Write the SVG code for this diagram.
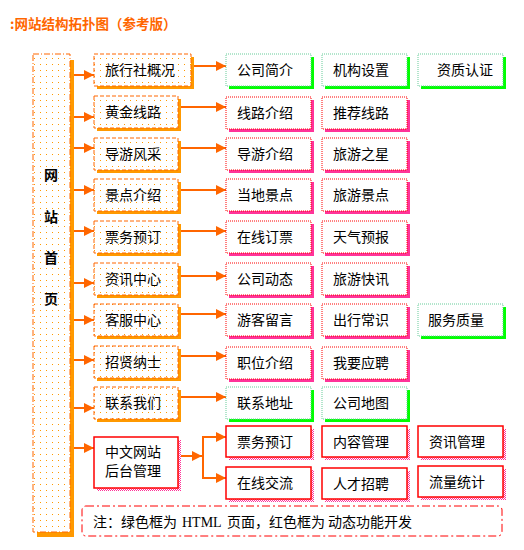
<svg xmlns="http://www.w3.org/2000/svg" width="524" height="550" viewBox="0 0 524 550">
<defs>
<pattern id="dots" width="6" height="6" patternUnits="userSpaceOnUse" x="1" y="1"><rect width="6" height="6" fill="#fff"/><rect x="3" y="3" width="1" height="1" fill="#ff9900"/></pattern>
<pattern id="checker" width="2" height="2" patternUnits="userSpaceOnUse"><rect width="2" height="2" fill="#fff"/><rect width="1" height="1" fill="#ff3399"/><rect x="1" y="1" width="1" height="1" fill="#ff3399"/></pattern>
<marker id="arr" markerUnits="userSpaceOnUse" markerWidth="11" markerHeight="11" refX="10" refY="5" orient="auto"><path d="M0,0 L10,5 L0,10 z" fill="#ff6600"/></marker>
<style>
.col{fill:url(#dots);stroke:#ff6600;stroke-width:1;stroke-dasharray:6 2 1 2}
.l1{fill:url(#dots);stroke:#ff6600;stroke-width:1;stroke-dasharray:4 2}
.l1s{fill:#ff9900}
.g{fill:#fff;stroke:#66cc99;stroke-width:1;stroke-dasharray:1 1}
.gs{fill:#00ff00}
.r{fill:#fff;stroke:#ff0000;stroke-width:1;stroke-dasharray:1 1}
.rs{fill:#ff3399}
.b{fill:#fff;stroke:#ff0000;stroke-width:1.5}
.bs{fill:url(#checker)}
.note{fill:#fff;stroke:#ff0000;stroke-width:1;stroke-dasharray:8 3 2 3}
.t{font-family:"Noto Sans CJK SC","Noto Sans",sans-serif;font-size:14px;fill:#000}
.tb{font-family:"Noto Sans CJK SC","Noto Sans",sans-serif;font-size:14px;font-weight:bold;fill:#000}
.title{font-family:"Noto Sans CJK SC","Noto Sans",sans-serif;font-size:13.5px;font-weight:bold;fill:#ff6600}
.c{stroke:#ff6600;stroke-width:2;fill:none}
.ca{stroke:#ff6600;stroke-width:2;fill:none;marker-end:url(#arr)}
</style>
</defs>
<text class="title" x="10" y="29">:网站结构拓扑图（参考版）</text>

<g id="connectors">
<line class="ca" x1="74" y1="75" x2="94" y2="75"/>
<line class="ca" x1="74" y1="117" x2="94" y2="117"/>
<line class="ca" x1="74" y1="148" x2="94" y2="148"/>
<line class="ca" x1="74" y1="190" x2="94" y2="190"/>
<line class="ca" x1="74" y1="231" x2="94" y2="231"/>
<line class="ca" x1="74" y1="283" x2="94" y2="283"/>
<line class="ca" x1="74" y1="320" x2="94" y2="320"/>
<line class="ca" x1="74" y1="360" x2="94" y2="360"/>
<line class="ca" x1="74" y1="408" x2="94" y2="408"/>
<line class="ca" x1="74" y1="448" x2="94" y2="448"/>
<line class="ca" x1="194" y1="66" x2="226" y2="66"/>
<line class="ca" x1="181" y1="107" x2="226" y2="107"/>
<line class="ca" x1="181" y1="148" x2="226" y2="148"/>
<line class="ca" x1="181" y1="190" x2="226" y2="190"/>
<line class="ca" x1="181" y1="231" x2="226" y2="231"/>
<line class="ca" x1="181" y1="276" x2="226" y2="276"/>
<line class="ca" x1="181" y1="314" x2="226" y2="314"/>
<line class="ca" x1="181" y1="356" x2="226" y2="356"/>
<line class="ca" x1="181" y1="397" x2="226" y2="397"/>
<line class="ca" x1="181" y1="456" x2="202" y2="456"/>
<line class="c" x1="203" y1="437" x2="203" y2="478"/>
<line class="ca" x1="202" y1="437" x2="226" y2="437"/>
<line class="ca" x1="202" y1="478" x2="226" y2="478"/>
</g>

<g id="home">
<rect class="l1s" x="37" y="60" width="37" height="477"/>
<rect class="col" x="33" y="54" width="37" height="478"/>
<text class="tb" x="51" y="180" text-anchor="middle">网</text>
<text class="tb" x="51" y="222" text-anchor="middle">站</text>
<text class="tb" x="51" y="263" text-anchor="middle">首</text>
<text class="tb" x="51" y="304" text-anchor="middle">页</text>
</g>

<g id="n-lxs"><rect class="l1s" x="97" y="57" width="97" height="32"/><rect class="l1" x="94" y="54" width="97" height="32"/><text class="t" x="105" y="75">旅行社概况</text></g>
<g id="n-hjxl"><rect class="l1s" x="97" y="99" width="84" height="32"/><rect class="l1" x="94" y="96" width="84" height="32"/><text class="t" x="105" y="117">黄金线路</text></g>
<g id="n-dyfc"><rect class="l1s" x="97" y="141" width="84" height="32"/><rect class="l1" x="94" y="138" width="84" height="32"/><text class="t" x="105" y="159">导游风采</text></g>
<g id="n-jdjs"><rect class="l1s" x="97" y="182" width="84" height="32"/><rect class="l1" x="94" y="179" width="84" height="32"/><text class="t" x="105" y="200">景点介绍</text></g>
<g id="n-pwyd"><rect class="l1s" x="97" y="224" width="84" height="32"/><rect class="l1" x="94" y="221" width="84" height="32"/><text class="t" x="105" y="242">票务预订</text></g>
<g id="n-zxzx"><rect class="l1s" x="97" y="266" width="84" height="32"/><rect class="l1" x="94" y="263" width="84" height="32"/><text class="t" x="105" y="284">资讯中心</text></g>
<g id="n-kfzx"><rect class="l1s" x="97" y="307" width="84" height="32"/><rect class="l1" x="94" y="304" width="84" height="32"/><text class="t" x="105" y="325">客服中心</text></g>
<g id="n-zxns"><rect class="l1s" x="97" y="349" width="84" height="32"/><rect class="l1" x="94" y="346" width="84" height="32"/><text class="t" x="105" y="367">招贤纳士</text></g>
<g id="n-lxwm"><rect class="l1s" x="97" y="390" width="84" height="32"/><rect class="l1" x="94" y="387" width="84" height="32"/><text class="t" x="105" y="408">联系我们</text></g>
<g id="n-admin"><rect class="bs" x="97" y="440" width="84" height="51"/><rect class="b" x="94" y="437" width="84" height="51"/><text class="t" x="105" y="457">中文网站</text><text class="t" x="105" y="476">后台管理</text></g>

<g id="n-gsjj"><rect class="gs" x="229" y="57" width="85" height="32"/><rect class="g" x="226" y="54" width="85" height="32"/><text class="t" x="237" y="75">公司简介</text></g>
<g id="n-jgsz"><rect class="gs" x="325" y="57" width="85" height="32"/><rect class="g" x="322" y="54" width="85" height="32"/><text class="t" x="333" y="75">机构设置</text></g>
<g id="n-zzrz"><rect class="gs" x="421" y="57" width="85" height="32"/><rect class="g" x="418" y="54" width="85" height="32"/><text class="t" x="437" y="75">资质认证</text></g>

<g id="n-xljs"><rect class="rs" x="229" y="100" width="85" height="32"/><rect class="r" x="226" y="97" width="85" height="32"/><text class="t" x="237" y="118">线路介绍</text></g>
<g id="n-tjxl"><rect class="rs" x="325" y="100" width="85" height="32"/><rect class="r" x="322" y="97" width="85" height="32"/><text class="t" x="333" y="118">推荐线路</text></g>

<g id="n-dyjs"><rect class="rs" x="229" y="141" width="85" height="32"/><rect class="r" x="226" y="138" width="85" height="32"/><text class="t" x="237" y="159">导游介绍</text></g>
<g id="n-lyzx"><rect class="rs" x="325" y="141" width="85" height="32"/><rect class="r" x="322" y="138" width="85" height="32"/><text class="t" x="333" y="159">旅游之星</text></g>

<g id="n-ddjd"><rect class="rs" x="229" y="182" width="85" height="32"/><rect class="r" x="226" y="179" width="85" height="32"/><text class="t" x="237" y="200">当地景点</text></g>
<g id="n-lyjd"><rect class="rs" x="325" y="182" width="85" height="32"/><rect class="r" x="322" y="179" width="85" height="32"/><text class="t" x="333" y="200">旅游景点</text></g>

<g id="n-zxdp"><rect class="rs" x="229" y="224" width="85" height="32"/><rect class="r" x="226" y="221" width="85" height="32"/><text class="t" x="237" y="242">在线订票</text></g>
<g id="n-tqyb"><rect class="rs" x="325" y="224" width="85" height="32"/><rect class="r" x="322" y="221" width="85" height="32"/><text class="t" x="333" y="242">天气预报</text></g>

<g id="n-gsdt"><rect class="rs" x="229" y="266" width="85" height="32"/><rect class="r" x="226" y="263" width="85" height="32"/><text class="t" x="237" y="284">公司动态</text></g>
<g id="n-lykx"><rect class="rs" x="325" y="266" width="85" height="32"/><rect class="r" x="322" y="263" width="85" height="32"/><text class="t" x="333" y="284">旅游快讯</text></g>

<g id="n-ykly"><rect class="rs" x="229" y="307" width="85" height="32"/><rect class="r" x="226" y="304" width="85" height="32"/><text class="t" x="237" y="325">游客留言</text></g>
<g id="n-cxcs"><rect class="rs" x="325" y="307" width="85" height="32"/><rect class="r" x="322" y="304" width="85" height="32"/><text class="t" x="333" y="325">出行常识</text></g>
<g id="n-fwzl"><rect class="gs" x="421" y="307" width="85" height="32"/><rect class="g" x="418" y="304" width="85" height="32"/><text class="t" x="428" y="325">服务质量</text></g>

<g id="n-zwjs"><rect class="rs" x="229" y="350" width="85" height="32"/><rect class="r" x="226" y="347" width="85" height="32"/><text class="t" x="237" y="368">职位介绍</text></g>
<g id="n-wyyp"><rect class="rs" x="325" y="350" width="85" height="32"/><rect class="r" x="322" y="347" width="85" height="32"/><text class="t" x="333" y="368">我要应聘</text></g>

<g id="n-lxdz"><rect class="gs" x="229" y="390" width="85" height="32"/><rect class="g" x="226" y="387" width="85" height="32"/><text class="t" x="237" y="408">联系地址</text></g>
<g id="n-gsdt2"><rect class="gs" x="325" y="390" width="85" height="32"/><rect class="g" x="322" y="387" width="85" height="32"/><text class="t" x="333" y="408">公司地图</text></g>

<g id="n-b-pwyd"><rect class="bs" x="229" y="429" width="85" height="31"/><rect class="b" x="226" y="426" width="85" height="31"/><text class="t" x="237" y="447">票务预订</text></g>
<g id="n-b-nrgl"><rect class="bs" x="325" y="429" width="85" height="31"/><rect class="b" x="322" y="426" width="85" height="31"/><text class="t" x="333" y="447">内容管理</text></g>
<g id="n-b-zxgl"><rect class="bs" x="421" y="429" width="85" height="31"/><rect class="b" x="418" y="426" width="85" height="31"/><text class="t" x="429" y="447">资讯管理</text></g>
<g id="n-b-zxjl"><rect class="bs" x="229" y="470" width="85" height="32"/><rect class="b" x="226" y="467" width="85" height="32"/><text class="t" x="237" y="488">在线交流</text></g>
<g id="n-b-rczp"><rect class="bs" x="325" y="471" width="85" height="31"/><rect class="b" x="322" y="468" width="85" height="31"/><text class="t" x="333" y="489">人才招聘</text></g>
<g id="n-b-lltj"><rect class="bs" x="421" y="469" width="85" height="31"/><rect class="b" x="418" y="466" width="85" height="31"/><text class="t" x="429" y="487">流量统计</text></g>

<g id="note">
<rect class="note" x="82" y="506" width="420" height="30" rx="4"/>
<text class="t" x="93" y="527">注：绿色框为</text>
<text class="t" x="182" y="527" style="font-family:'Liberation Serif',serif">HTML</text>
<text class="t" x="227" y="527">页面，红色框为</text>
<text class="t" x="328" y="527">动态功能开发</text>
</g>
</svg>
